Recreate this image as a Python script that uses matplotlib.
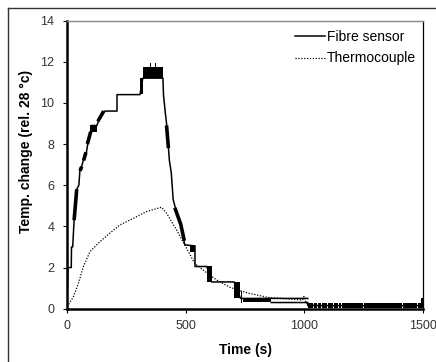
import numpy as np
import matplotlib
matplotlib.use('Agg')
import matplotlib.pyplot as plt
from matplotlib.lines import Line2D

plt.rcParams['font.family'] = ['Liberation Sans', 'DejaVu Sans']
plt.rcParams['font.size'] = 10

nan = np.nan

# fibre sensor trace (s, deg C), nan = break
fibre_t = [0, 4, 18, 19, 24, 30, 36, 41, 50, 55, 62, 75, 82, 89, 100, 104, 126, 139, 160,
           211, 211, 308, 320, 405, 407, 415, 421, 432, 440, 443, 448, 463, 478, 490, 497,
           540, 540, 590, 610, 705, 732, 862, 1016, nan, 862, 1016, 1016, 1500]
fibre_v = [0.3, 2.0, 2.0, 3.0, 3.0, 4.3, 5.0, 5.8, 6.0, 6.8, 6.9, 7.5, 7.6, 8.1, 8.6, 8.9, 8.9, 9.3, 9.6,
           9.6, 10.4, 10.4, 11.2, 11.2, 10.4, 9.5, 8.9, 7.2, 6.6, 6.1, 5.3, 4.65, 4.15, 3.5, 3.1,
           3.05, 2.05, 2.05, 1.3, 1.3, 0.5, 0.5, 0.5, nan, 0.3, 0.3, 0.15, 0.15]

# noisy stretches along slopes (drawn heavy)
noisy_t = [30, 41, nan, 55, 62, nan, 70, 80, nan, 86, 100, nan, 130, 155, nan,
           420, 428, nan, 455, 480, 495]
noisy_v = [4.3, 5.8, nan, 6.7, 6.9, nan, 7.2, 7.6, nan, 8.0, 8.6, nan, 9.1, 9.6, nan,
           8.9, 7.8, nan, 4.9, 4.1, 3.3]

# flat noisy blocks: start, end, low, high
band_t0 = [97, 308, 320, 352, 372, 518, 590, 704, 736, 742,
           1016, 1044, 1058, 1075, 1103, 1128, 1148, 1162, 1253, 1419, 1482, 1495]
band_t1 = [125, 320, 405, 356, 377, 540, 610, 732, 738, 862,
           1039, 1053, 1070, 1098, 1123, 1143, 1157, 1248, 1414, 1477, 1500, 1500]
band_lo = [8.6, 10.42, 11.2, 11.75, 11.75, 2.75, 1.3, 0.5, 0.26, 0.32,
           0.02, 0.02, 0.02, 0.02, 0.02, 0.02, 0.02, 0.02, 0.02, 0.02, 0.02, 0.02]
band_hi = [8.9, 11.2, 11.75, 11.95, 11.95, 3.1, 2.05, 1.3, 0.85, 0.5,
           0.3, 0.3, 0.3, 0.3, 0.3, 0.3, 0.3, 0.3, 0.3, 0.3, 0.3, 0.5]

# thermocouple
thermo_t = [0, 5, 27, 48, 69, 97, 139, 181, 223, 280, 336, 399, 420, 462, 511, 539,
            574, 631, 687, 757, 847, 994, 1000, 1010, 1040]
thermo_v = [0.1, 0.18, 0.58, 1.23, 2.04, 2.77, 3.26, 3.67, 4.07, 4.39, 4.72, 4.93, 4.64, 3.83,
            2.8, 2.2, 1.88, 1.4, 1.04, 0.78, 0.55, 0.42, 0.6, 0.25, 0.2]

fig = plt.figure(figsize=(4.36, 3.62), dpi=100)
ax = fig.add_axes([67 / 436, 1 - 308.7 / 362, 355.5 / 436, 288.2 / 362])

ax.plot(fibre_t, fibre_v, color='black', lw=1.1, label='Fibre sensor')
ax.plot(noisy_t, noisy_v, color='black', lw=2.6, solid_capstyle='butt')
b_t0 = np.array(band_t0)
b_t1 = np.array(band_t1)
b_lo = np.array(band_lo)
b_hi = np.array(band_hi)
ax.bar(b_t0, b_hi - b_lo, bottom=b_lo, width=b_t1 - b_t0, align='edge',
       color='black', linewidth=0)
ax.plot(thermo_t, thermo_v, color='black', lw=0.9, linestyle=(0, (1, 1.3)), label='Thermocouple')

ax.set_xlim(0, 1500)
ax.set_ylim(0, 14)
ax.set_xticks([0, 500, 1000, 1500])
ax.set_yticks(range(0, 15, 2))
ax.tick_params(direction='out', length=3, width=0.8, labelsize=9, colors='black')
ax.tick_params(axis='y', pad=6)
ax.tick_params(axis='x', pad=5)
for lab in ax.get_xticklabels() + ax.get_yticklabels():
    lab.set_color('#333333')

ax.spines['left'].set_linewidth(1.8)
ax.spines['bottom'].set_linewidth(1.8)
ax.spines['top'].set_color('#888888')
ax.spines['top'].set_linewidth(1.0)
ax.spines['right'].set_linewidth(0.9)

ax.set_xlabel('Time (s)', fontweight='bold', fontsize=10)
ax.set_ylabel('Temp. change (rel. 28 \u00b0c)', fontweight='bold', fontsize=10)
ax.xaxis.set_label_coords(0.503, -0.12)
ax.yaxis.set_label_coords(-0.097, 0.546)

ax.legend(loc='upper left', bbox_to_anchor=(0.64, 0.968), frameon=False, borderpad=0,
          handlelength=2.2, handletextpad=0.15, labelspacing=0.55, fontsize=10,
          borderaxespad=0)

# outer border
fig.add_artist(Line2D([8 / 436, 1], [1 - 8 / 362, 1 - 8 / 362], color='#333333', lw=1.0))
fig.add_artist(Line2D([8 / 436, 8 / 436], [0, 1 - 8 / 362], color='#333333', lw=1.0))

fig.savefig('out.png', dpi=100)
